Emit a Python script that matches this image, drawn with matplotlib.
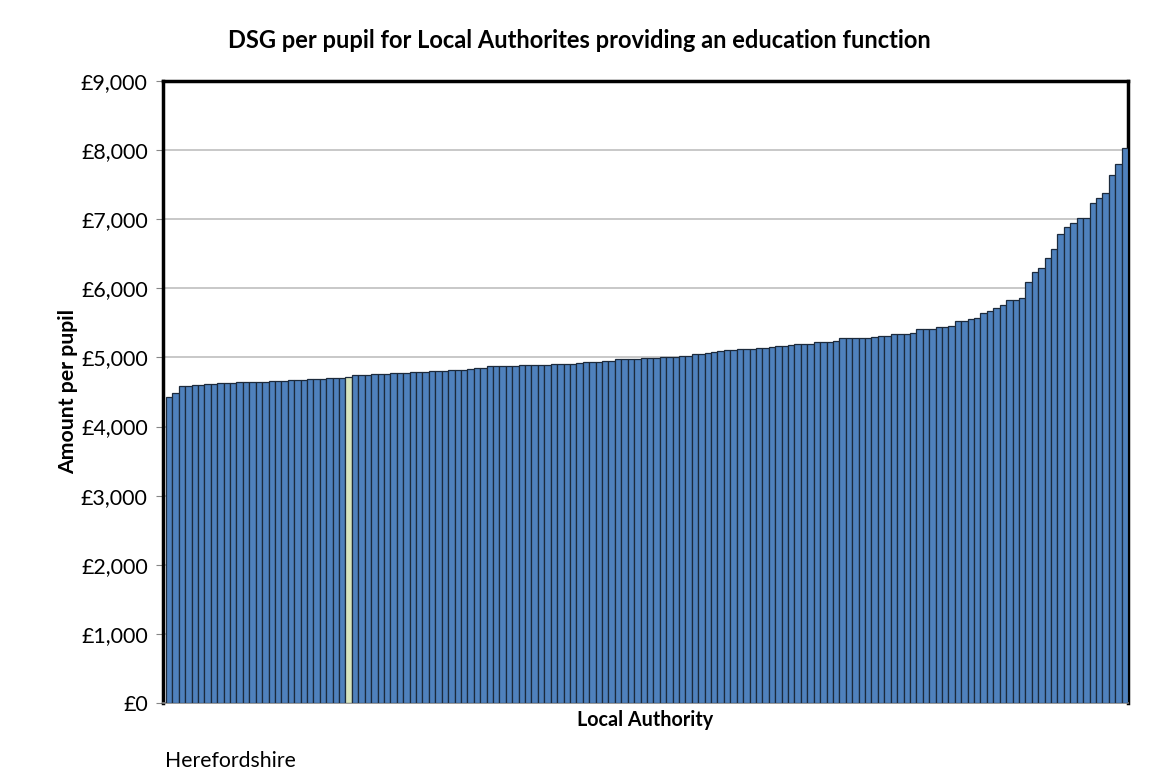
import matplotlib.pyplot as plt
import numpy as np

# DSG per pupil, sorted ascending
dsg_per_pupil = [
    4423, 4486, 4592, 4592, 4597, 4606, 4616, 4616, 4635, 4635,
    4635, 4650, 4650, 4650, 4650, 4650, 4655, 4655, 4655, 4669,
    4669, 4669, 4684, 4684, 4684, 4700, 4700, 4700, 4717, 4742,
    4742, 4742, 4756, 4756, 4756, 4771, 4771, 4771, 4785, 4785,
    4785, 4800, 4800, 4800, 4814, 4814, 4814, 4833, 4852, 4852,
    4880, 4880, 4880, 4880, 4880, 4896, 4896, 4896, 4896, 4896,
    4910, 4910, 4910, 4910, 4924, 4934, 4934, 4934, 4954, 4954,
    4978, 4978, 4978, 4978, 4992, 4992, 4992, 5007, 5007, 5007,
    5026, 5026, 5045, 5045, 5060, 5075, 5089, 5104, 5104, 5118,
    5118, 5118, 5133, 5133, 5147, 5162, 5162, 5176, 5195, 5195,
    5195, 5219, 5219, 5230, 5238, 5277, 5277, 5277, 5277, 5277,
    5296, 5315, 5315, 5340, 5340, 5340, 5359, 5412, 5412, 5412,
    5446, 5446, 5460, 5532, 5532, 5552, 5567, 5643, 5672, 5711,
    5759, 5827, 5827, 5856, 6097, 6232, 6290, 6444, 6565, 6782,
    6888, 6946, 7023, 7023, 7231, 7303, 7380, 7636, 7804, 8035,
]
highlight_index = 28  # Herefordshire
highlight_name = 'Herefordshire'

plt.rcParams['font.family'] = ['Lato', 'DejaVu Sans']

fig = plt.figure(figsize=(11.49, 7.73), dpi=100)
ax = fig.add_axes([163 / 1149, 1 - 703 / 773, (1128 - 163) / 1149, (703 - 81) / 773])

x = np.arange(len(dsg_per_pupil))
colors = ['#4f81bd'] * len(dsg_per_pupil)
colors[highlight_index] = '#d7e4bd'
ax.bar(x, dsg_per_pupil, width=1.0, color=colors, edgecolor='#1c2a3c', linewidth=0.9, zorder=3)

ax.set_ylim(0, 9000)
ax.set_xlim(-0.95, len(dsg_per_pupil) - 0.5)
ax.set_yticks(range(0, 9001, 1000))
ax.set_yticklabels(['£{:,}'.format(v) for v in range(0, 9001, 1000)], fontsize=15.4)
ax.set_xticks([])
ax.yaxis.grid(True, color='#bfbfbf', linewidth=1.2, zorder=0)
ax.tick_params(axis='y', length=5, color='#868686', pad=6)

for side in ['top', 'right', 'left']:
    ax.spines[side].set_color('black')
    ax.spines[side].set_linewidth(2.5)
ax.spines['bottom'].set_color('#868686')
ax.spines['bottom'].set_linewidth(1.2)

ax.set_ylabel('Amount per pupil', fontsize=15.3, fontweight='bold')
ax.yaxis.set_label_coords(-0.0984, 0.5)
ax.set_xlabel('Local Authority', fontsize=14.2, fontweight='bold')
ax.xaxis.set_label_coords(0.5, -0.0273)
ax.xaxis.label.set_va('center')
ax.yaxis.label.set_va('center')
fig.text(0.504, 1 - 40 / 773, 'DSG per pupil for Local Authorites providing an education function',
         ha='center', va='center', fontsize=17, fontweight='bold')
fig.text(165 / 1149, 1 - 761 / 773, highlight_name, ha='left', va='center', fontsize=15.3)

fig.savefig('out.png', dpi=100)
